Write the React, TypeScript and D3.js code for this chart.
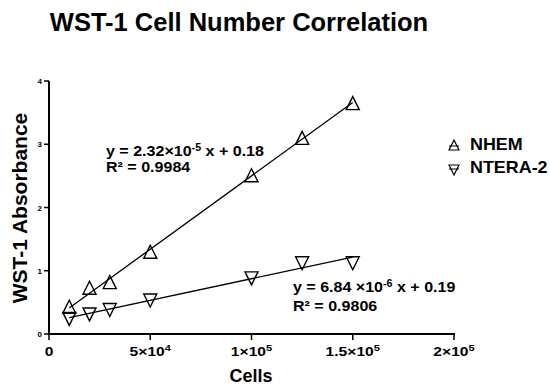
import { useEffect, useRef } from 'react';
import * as d3 from 'd3';

const cellCounts = [10000, 20000, 30000, 50000, 100000, 125000, 150000];
const nhemValues = [0.41, 0.71, 0.8, 1.28, 2.49, 3.08, 3.63];
const nteraValues = [0.26, 0.33, 0.4, 0.55, 0.9, 1.14, 1.14];

const seriesNames = ['NHEM', 'NTERA-2'];
const fits = [
    { slope: 2.32e-5, intercept: 0.18 },
    { slope: 6.84e-6, intercept: 0.19 },
];

const yTicks = [0, 1, 2, 3, 4];
const xTicks = [0, 50000, 100000, 150000, 200000];
const xTickLabels = [
    { base: '0', exp: '' },
    { base: '5×10', exp: '4' },
    { base: '1×10', exp: '5' },
    { base: '1.5×10', exp: '5' },
    { base: '2×10', exp: '5' },
];

const FONT = '"Liberation Sans", Arial, sans-serif';

export default function App() {
    const svgRef = useRef<SVGSVGElement | null>(null);

    useEffect(() => {
        if (!svgRef.current) {
            return;
        }
        const svg = d3.select(svgRef.current);
        svg.selectAll('*').remove();

        const x = d3.scaleLinear().domain([0, 200000]).range([49, 454]);
        const y = d3.scaleLinear().domain([0, 4]).range([334, 81]);

        const g = svg.append('g').attr('font-family', FONT).attr('font-weight', 700).attr('fill', '#000');

        // text helper: the reference type is a bit wider than it is tall
        const stretched = (px: number, py: number, sx: number) =>
            g.append('g').attr('transform', `translate(${px},${py}) scale(${sx},1)`).append('text');

        // title
        stretched(239, 31, 1.0)
            .attr('text-anchor', 'middle')
            .attr('font-size', 25.5)
            .text('WST-1 Cell Number Correlation');

        // axes
        g.append('line')
            .attr('x1', x(0))
            .attr('x2', x(0))
            .attr('y1', y(4))
            .attr('y2', y(0) + 1)
            .attr('stroke', '#000')
            .attr('stroke-width', 2);
        g.append('line')
            .attr('x1', x(0) - 1)
            .attr('x2', x(200000) + 1)
            .attr('y1', y(0))
            .attr('y2', y(0))
            .attr('stroke', '#000')
            .attr('stroke-width', 2);

        yTicks.forEach((t) => {
            g.append('line')
                .attr('x1', x(0) - 5)
                .attr('x2', x(0))
                .attr('y1', y(t))
                .attr('y2', y(t))
                .attr('stroke', '#000')
                .attr('stroke-width', 1.5);
            g.append('text')
                .attr('x', x(0) - 7)
                .attr('y', y(t) + 3)
                .attr('text-anchor', 'end')
                .attr('font-size', 8)
                .text(String(t));
        });

        xTicks.forEach((t, i) => {
            g.append('line')
                .attr('x1', x(t))
                .attr('x2', x(t))
                .attr('y1', y(0))
                .attr('y2', y(0) + 6)
                .attr('stroke', '#000')
                .attr('stroke-width', 1.5);
            const label = stretched(x(t), 356, 1.3).attr('text-anchor', 'middle').attr('font-size', 12);
            label.append('tspan').text(xTickLabels[i].base);
            if (xTickLabels[i].exp) {
                label.append('tspan').attr('dy', -5).attr('font-size', 8.5).text(xTickLabels[i].exp);
            }
        });

        // axis titles
        g.append('text')
            .attr('x', 251)
            .attr('y', 382)
            .attr('text-anchor', 'middle')
            .attr('font-size', 18)
            .text('Cells');
        g.append('text')
            .attr('transform', 'translate(27, 208) rotate(-90)')
            .attr('text-anchor', 'middle')
            .attr('font-size', 21)
            .text('WST-1 Absorbance');

        // fit lines
        const xMin = d3.min(cellCounts) ?? 0;
        const xMax = d3.max(cellCounts) ?? 0;
        fits.forEach((fit) => {
            g.append('line')
                .attr('x1', x(xMin))
                .attr('x2', x(xMax))
                .attr('y1', y(fit.slope * xMin + fit.intercept))
                .attr('y2', y(fit.slope * xMax + fit.intercept))
                .attr('stroke', '#000')
                .attr('stroke-width', 1.3);
        });

        // markers
        const up = (cx: number, cy: number, s: number) =>
            `M${cx},${cy - s * 0.6}L${cx + s / 2},${cy + s * 0.4}L${cx - s / 2},${cy + s * 0.4}Z`;
        const down = (cx: number, cy: number, s: number) =>
            `M${cx},${cy + s * 0.6}L${cx + s / 2},${cy - s * 0.4}L${cx - s / 2},${cy - s * 0.4}Z`;

        const drawMarkers = (values: number[], shape: typeof up) => {
            g.append('g')
                .selectAll('path')
                .data(values)
                .join('path')
                .attr('d', (v, i) => shape(x(cellCounts[i]), y(v), 13))
                .attr('fill', 'none')
                .attr('stroke', '#000')
                .attr('stroke-width', 1.4);
        };
        drawMarkers(nhemValues, up);
        drawMarkers(nteraValues, down);

        // annotations
        const eq1 = stretched(106, 156, 1.07).attr('font-size', 15);
        eq1.append('tspan').text('y = 2.32×10');
        eq1.append('tspan').attr('dy', -5).attr('font-size', 10).text('-5');
        eq1.append('tspan').attr('dy', 5).text(' x + 0.18');
        stretched(106, 172, 1.07).attr('font-size', 15).text('R² = 0.9984');

        const eq2 = stretched(293, 292, 1.07).attr('font-size', 15);
        eq2.append('tspan').text('y = 6.84 ×10');
        eq2.append('tspan').attr('dy', -5).attr('font-size', 10).text('-6');
        eq2.append('tspan').attr('dy', 5).text(' x + 0.19');
        stretched(293, 311, 1.07).attr('font-size', 15).text('R² = 0.9806');

        // legend
        const legendShapes = [up, down];
        seriesNames.forEach((name, i) => {
            const ly = 145 + i * 23;
            g.append('path')
                .attr('d', legendShapes[i](454, ly + 1, 10))
                .attr('fill', 'none')
                .attr('stroke', '#000')
                .attr('stroke-width', 1.2);
            g.append('line')
                .attr('x1', 449)
                .attr('x2', 459)
                .attr('y1', ly + 1)
                .attr('y2', ly + 1)
                .attr('stroke', '#000')
                .attr('stroke-width', 1);
            stretched(470, ly + 5, 1.12).attr('font-size', 16).text(name);
        });
    }, []);

    return (
        <svg
            ref={svgRef}
            width={550}
            height={389}
            style={{ position: 'absolute', left: 0, top: 0, background: '#fff' }}
        />
    );
}
